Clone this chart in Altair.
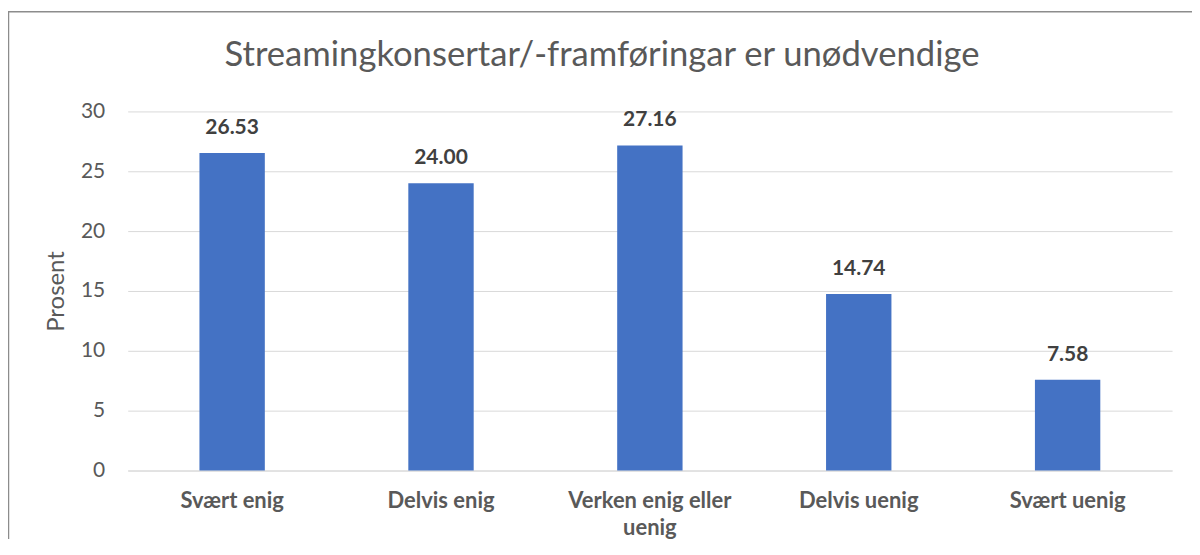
import altair as alt
import pandas as pd

categories = ["Svært enig", "Delvis enig", "Verken enig eller uenig", "Delvis uenig", "Svært uenig"]
values = [26.53, 24.00, 27.16, 14.74, 7.58]
y_ticks = [0, 5, 10, 15, 20, 25, 30]
title_text = "Streamingkonsertar/-framføringar er unødvendige"
y_title = "Prosent"

df = pd.DataFrame({"cat": categories, "val": values})

FONT = "Lato"
GREY = "#595959"

x_enc = alt.X(
    "cat:N",
    sort=categories,
    title=None,
    scale=alt.Scale(paddingInner=0.687, paddingOuter=0.3435),
    axis=alt.Axis(
        labelAngle=0,
        labelFont=FONT,
        labelFontSize=22,
        labelFontWeight="bold",
        labelColor=GREY,
        labelPadding=20,
        labelBaseline="top",
        labelLineHeight=27,
        labelLimit=300,
        labelExpr="datum.label == 'Verken enig eller uenig' ? ['Verken enig eller', 'uenig'] : datum.label",
        ticks=False,
        domainColor="#d9d9d9",
        domainWidth=1,
        grid=False,
    ),
)

y_enc = alt.Y(
    "val:Q",
    title=y_title,
    scale=alt.Scale(domain=[0, 30], nice=False),
    axis=alt.Axis(
        values=y_ticks,
        labelFont=FONT,
        labelFontSize=21,
        labelColor=GREY,
        labelPadding=23,
        ticks=False,
        domain=False,
        grid=True,
        gridColor="#d9d9d9",
        gridWidth=1,
        titleFont=FONT,
        titleFontSize=24,
        titleFontWeight="normal",
        titleColor=GREY,
        titleX=-71,
        titleY=180,
        titleAngle=-90,
        titleBaseline="middle",
        titleAlign="center",
    ),
)

bars = alt.Chart(df).mark_bar(color="#4472C4").encode(x=x_enc, y=y_enc)

labels = alt.Chart(df).mark_text(
    font=FONT, fontSize=21, fontWeight="bold", color="#404040", dy=-19, baseline="alphabetic"
).encode(
    x=alt.X("cat:N", sort=categories),
    y=alt.Y("val:Q"),
    text=alt.Text("val:Q", format=".2f"),
)

border = alt.Chart(alt.Data(values=[{}])).mark_rect(
    fill=None, stroke="#8c8c8c", strokeWidth=1.5, clip=False
).encode(
    x=alt.value(-119.5),
    x2=alt.value(1090),
    y=alt.value(-100),
    y2=alt.value(470),
)

chart = alt.layer(border, bars, labels).properties(
    width=1047,
    height=360,
    autosize=alt.AutoSizeParams(type="none"),
    padding={"left": 120, "top": 103, "right": 20, "bottom": 68},
    title=alt.TitleParams(
        text=title_text,
        font=FONT,
        fontSize=34.7,
        fontWeight="normal",
        color=GREY,
        anchor="middle",
        frame="group",
        baseline="alphabetic",
        offset=45,
        dx=-48,
        dy=135,
    ),
).configure_view(stroke=None)

chart.save("out.html", embed_options={"renderer": "svg", "actions": False})
